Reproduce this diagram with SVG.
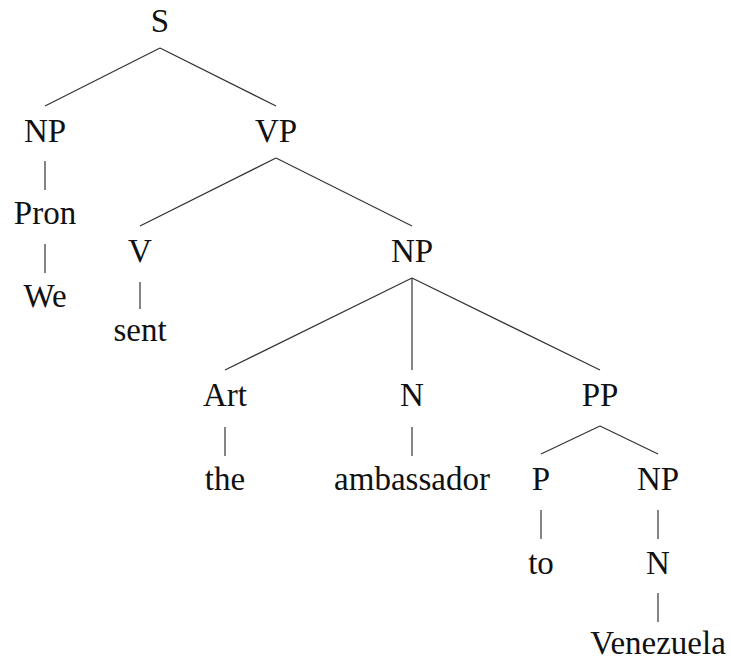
<svg xmlns="http://www.w3.org/2000/svg" width="731" height="662" viewBox="0 0 731 662">
<style>
text { font-family: "Liberation Serif", "DejaVu Serif", serif; font-size: 33px; fill: #111; text-anchor: middle; }
line { stroke: #333; stroke-width: 1.2; }
</style>
<rect width="731" height="662" fill="#fff"/>
<g id="connectors">
<line x1="160" y1="48" x2="45" y2="106"/>
<line x1="160" y1="48" x2="276" y2="106"/>
<line x1="45" y1="161" x2="45" y2="190"/>
<line x1="45" y1="244" x2="45" y2="273"/>
<line x1="276" y1="158" x2="140" y2="226"/>
<line x1="276" y1="158" x2="412" y2="226"/>
<line x1="140" y1="282" x2="140" y2="309"/>
<line x1="412" y1="278" x2="225" y2="370"/>
<line x1="412" y1="278" x2="412" y2="370"/>
<line x1="412" y1="278" x2="600" y2="370"/>
<line x1="225" y1="427" x2="225" y2="456"/>
<line x1="412" y1="427" x2="412" y2="456"/>
<line x1="600" y1="426" x2="541" y2="454"/>
<line x1="600" y1="426" x2="658" y2="454"/>
<line x1="541" y1="510" x2="541" y2="539"/>
<line x1="658" y1="510" x2="658" y2="539"/>
<line x1="658" y1="593" x2="658" y2="622"/>
</g>
<g id="S"><text x="160" y="32">S</text></g>
<g id="NP1"><text x="45" y="142">NP</text></g>
<g id="VP"><text x="276" y="142">VP</text></g>
<g id="Pron"><text x="45" y="224">Pron</text></g>
<g id="We"><text x="45" y="307">We</text></g>
<g id="V"><text x="140" y="262">V</text></g>
<g id="sent"><text x="140" y="341">sent</text></g>
<g id="NP2"><text x="412" y="262">NP</text></g>
<g id="Art"><text x="225" y="406">Art</text></g>
<g id="the"><text x="225" y="490">the</text></g>
<g id="N1"><text x="412" y="406">N</text></g>
<g id="ambassador"><text x="412" y="490">ambassador</text></g>
<g id="PP"><text x="600" y="406">PP</text></g>
<g id="P"><text x="541" y="490">P</text></g>
<g id="NP3"><text x="658" y="490">NP</text></g>
<g id="to"><text x="541" y="574">to</text></g>
<g id="N2"><text x="658" y="574">N</text></g>
<g id="Venezuela"><text x="658" y="654">Venezuela</text></g>
</svg>
